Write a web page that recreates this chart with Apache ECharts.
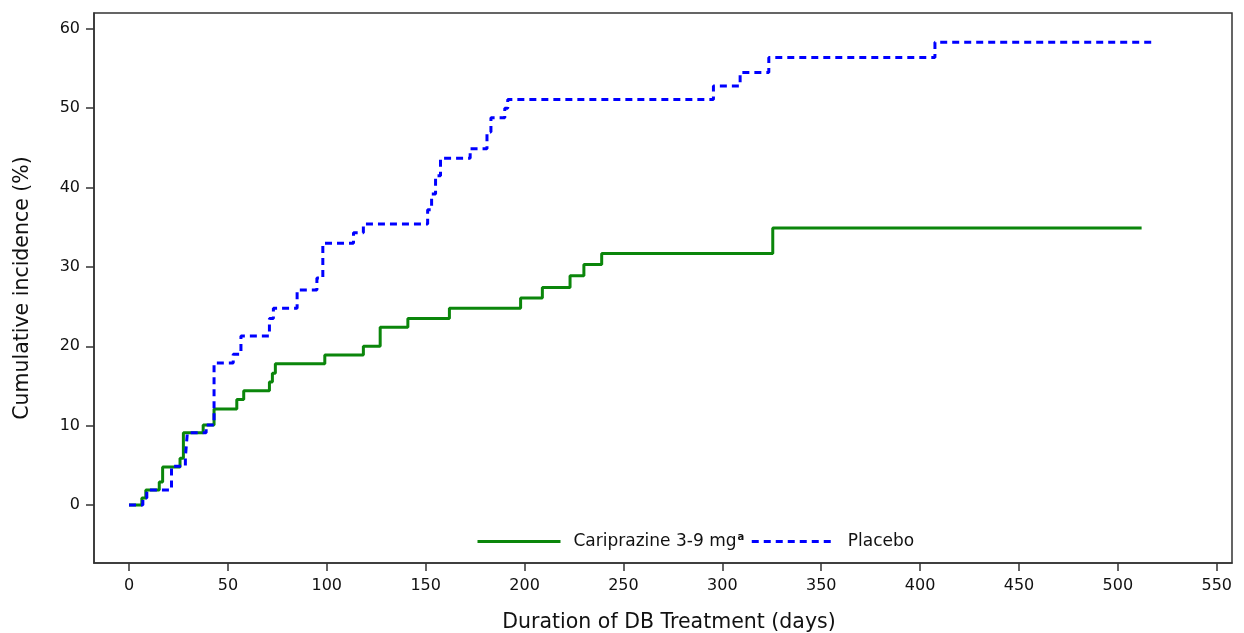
<!DOCTYPE html>
<html>
<head>
<meta charset="utf-8">
<script src="https://cdn.jsdelivr.net/npm/echarts@6/dist/echarts.min.js"></script>
<style>html,body{margin:0;padding:0;background:#fff}#c{width:1244px;height:633px}</style>
</head>
<body>
<div id="c"></div>
<script>
const seriesNames = ['Cariprazine 3-9 mg', 'Placebo'];
const cariDays = [0, 6.5, 8.5, 15.3, 17, 25.8, 27.5, 37.5, 43, 54.5, 58, 71, 72.5, 74, 99, 118.5, 127, 141, 162, 198, 209, 223, 230, 239, 325.5, 512];
const cariPct  = [0, 0.9, 1.9, 2.9, 4.8, 5.9, 9.1, 10.1, 12.1, 13.3, 14.4, 15.5, 16.6, 17.8, 18.9, 20.0, 22.4, 23.5, 24.8, 26.1, 27.4, 28.9, 30.3, 31.7, 34.9, 34.9];
const placDays = [0, 7, 9, 21.5, 28.5, 29.5, 39, 43, 52.7, 56.6, 71, 73, 85, 95, 98, 113.5, 118.5, 151, 153, 155, 157.5, 172.5, 181, 183, 190, 191.5, 295.5, 309, 323.5, 407.5, 517];
const placPct  = [0, 0.9, 1.9, 4.9, 6.0, 9.1, 10.1, 17.9, 19.0, 21.3, 23.5, 24.8, 27.1, 28.6, 33.0, 34.3, 35.4, 37.2, 39.2, 41.5, 43.7, 44.9, 47.0, 48.8, 50.0, 51.1, 52.8, 54.5, 56.4, 58.3, 58.3];
const xTicks = [0, 50, 100, 150, 200, 250, 300, 350, 400, 450, 500, 550];
const yTicks = [0, 10, 20, 30, 40, 50, 60];

const FONT = 'DejaVu Sans';
const zip = (a, b) => a.map((v, i) => [v, b[i]]);
const chart = echarts.init(document.getElementById('c'), null, {renderer: 'canvas'});
chart.setOption({
  animation: false,
  backgroundColor: '#fff',
  textStyle: {fontFamily: FONT},
  grid: {left: 94, right: 12, top: 13, bottom: 70, outerBoundsMode: 'none', containLabel: false,
         show: true, borderColor: '#333', borderWidth: 1.5, backgroundColor: 'transparent'},
  xAxis: {
    type: 'value', min: -17.7, max: 557.7,
    name: 'Duration of DB Treatment (days)', nameLocation: 'middle', nameGap: 49,
    nameTextStyle: {fontSize: 20.5, color: '#111', fontFamily: FONT, padding: [0, 0, 0, 12]},
    axisLine: {show: true, onZero: false, lineStyle: {color: '#333', width: 1.5}},
    axisTick: {show: true, length: 8, customValues: xTicks, lineStyle: {color: '#333', width: 1.5}},
    axisLabel: {customValues: xTicks, fontSize: 16, color: '#111', margin: 15, fontFamily: FONT},
    splitLine: {show: false}
  },
  yAxis: {
    type: 'value', min: -7.3, max: 62.0,
    name: 'Cumulative incidence (%)', nameLocation: 'middle', nameGap: 61, nameRotate: 90,
    nameTextStyle: {fontSize: 20.5, color: '#111', fontFamily: FONT},
    axisLine: {show: true, onZero: false, lineStyle: {color: '#333', width: 1.5}},
    axisTick: {show: true, length: 8, customValues: yTicks, lineStyle: {color: '#333', width: 1.5}},
    axisLabel: {customValues: yTicks, fontSize: 16, color: '#111', margin: 14, fontFamily: FONT},
    splitLine: {show: false}
  },
  legend: {
    left: 471, top: 527, itemWidth: 83, itemHeight: 14, itemGap: 6,
    data: seriesNames,
    itemStyle: {opacity: 0},
    lineStyle: {width: 3},
    formatter: n => n === seriesNames[0] ? '{n|' + n + '}{s|a}' : '{n|' + n + '}',
    textStyle: {
      fontSize: 17, color: '#111', fontFamily: FONT, padding: [0, 0, 0, 8],
      rich: {n: {fontSize: 17, color: '#111', fontFamily: FONT}, s: {fontSize: 10, color: '#111', fontWeight: 'bold', verticalAlign: 'top', padding: [0, 0, 9, 1], fontFamily: FONT}}
    }
  },
  series: [
    {name: seriesNames[0], type: 'line', step: 'end', showSymbol: false, symbol: 'none',
     data: zip(cariDays, cariPct), lineStyle: {color: '#0b860b', width: 3}, itemStyle: {color: '#0b860b'}},
    {name: seriesNames[1], type: 'line', step: 'end', showSymbol: false, symbol: 'none',
     data: zip(placDays, placPct), lineStyle: {color: '#0000ff', width: 3, type: [7, 5]}, itemStyle: {color: '#0000ff'}}
  ]
});
</script>
</body>
</html>
